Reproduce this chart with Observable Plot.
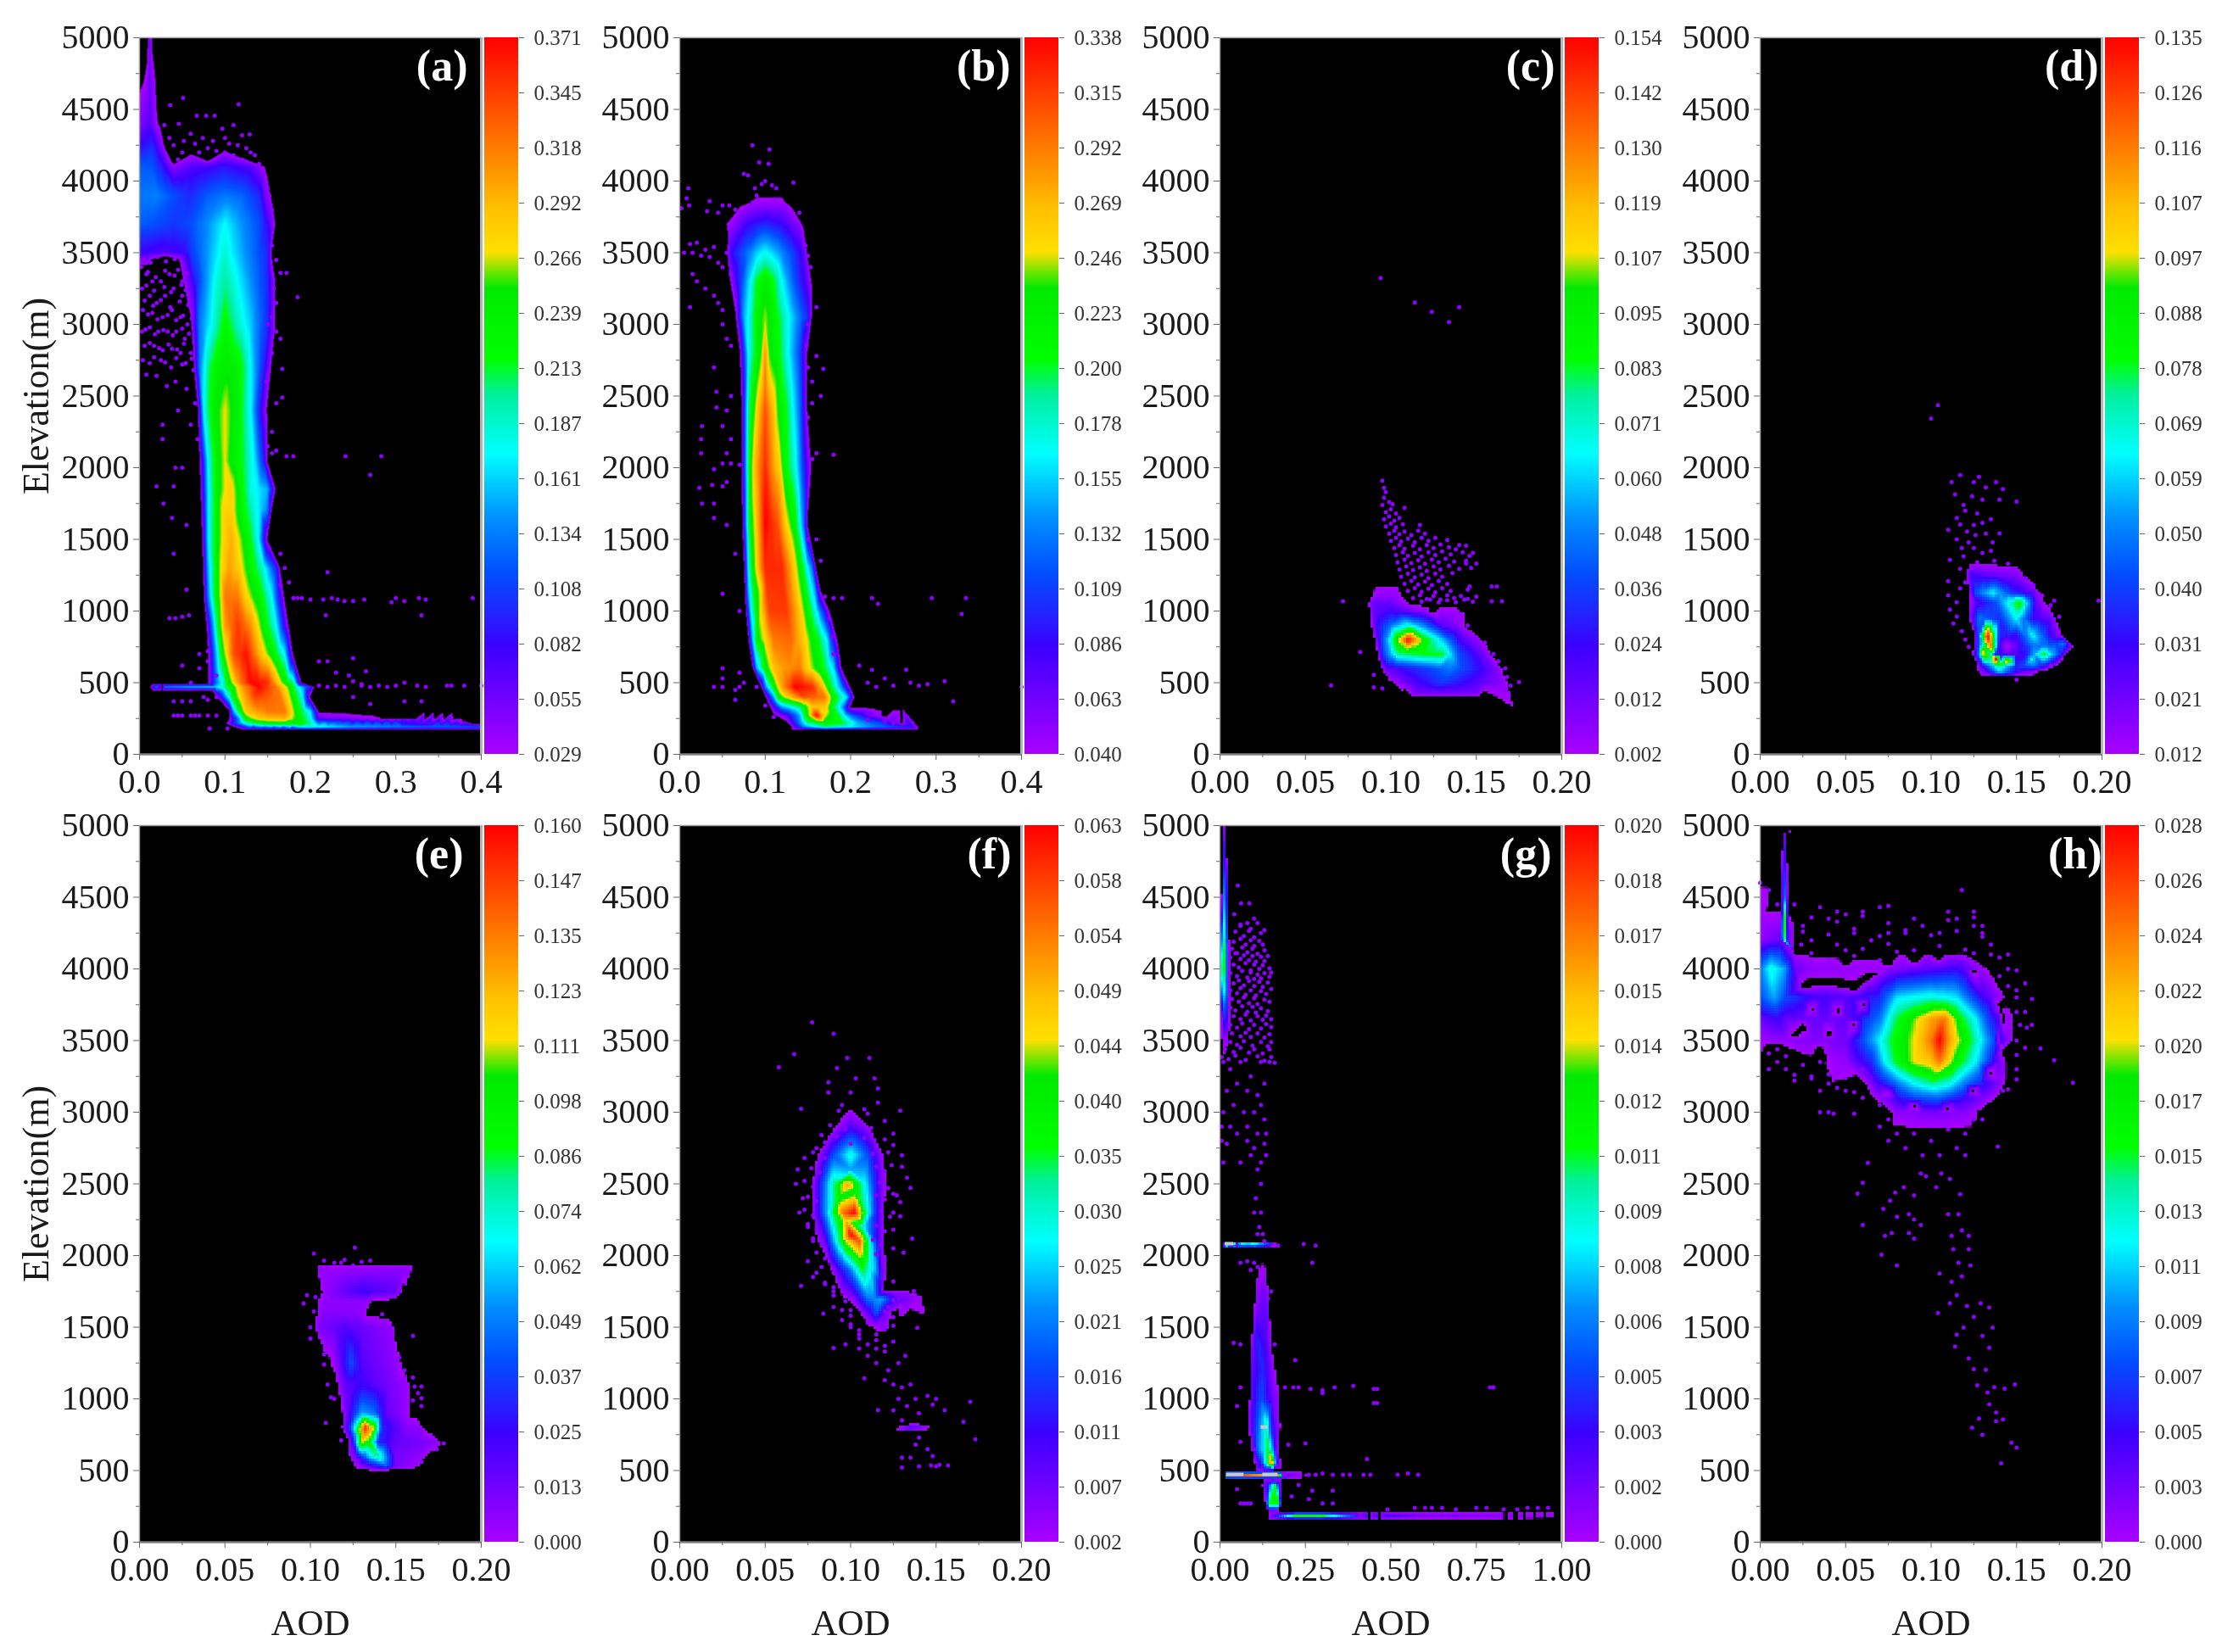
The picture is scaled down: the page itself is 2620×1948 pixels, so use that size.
<!DOCTYPE html>
<html><head><meta charset="utf-8">
<script src="https://cdn.jsdelivr.net/npm/d3@7"></script>
<script src="https://cdn.jsdelivr.net/npm/@observablehq/plot@0.6"></script>
<style>html,body{margin:0;background:#fff}#c{position:relative;width:2620px;height:1948px;overflow:hidden;filter:blur(.5px)}#c>svg,#c>div{position:absolute}
image{filter:blur(.7px)}</style></head><body><div id="c"></div>
<script>
// colour-bar tick labels
const barA=[.029,.055,.082,.108,.134,.161,.187,.213,.239,.266,.292,.318,.345,.371];
const barB=[.040,.063,.086,.109,.132,.155,.178,.200,.223,.246,.269,.292,.315,.338];
const barC=[.002,.012,.024,.036,.048,.060,.071,.083,.095,.107,.119,.130,.142,.154];
const barD=[.012,.021,.031,.040,.050,.059,.069,.078,.088,.097,.107,.116,.126,.135];
const barE=[.000,.013,.025,.037,.049,.062,.074,.086,.098,.111,.123,.135,.147,.160];
const barF=[.002,.007,.011,.016,.021,.025,.030,.035,.040,.044,.049,.054,.058,.063];
const barG=[.000,.002,.003,.005,.006,.008,.009,.011,.012,.014,.015,.017,.018,.020];
const barH=[.000,.003,.005,.007,.009,.011,.013,.015,.017,.020,.022,.024,.026,.028];
// colour ramp: share of the bar, colour
const rampAt=[0,.15,.255,.33,.42,.5,.55,.65,.70,.76,.84,.92,1];
const rampColor=["#a800ff","#3c00ff","#0050ff","#0090ff","#00ffff","#00f0a0","#00ff00","#00ea00","#ffe000","#ffc000","#ff8000","#ff4000","#ff0000"];
// density profiles: [elevation, aod, share of bar, aod, share of bar, ...]
const rowsA=[[170,.12,0,.2,0,.25,0,.33,0,.4,0],[190,.11,0,.13,.3,.2,.45,.25,.35,.33,.28,.4,.25],[215,.1,0,.125,.45,.15,.6,.19,.6,.205,.42,.25,.22,.33,.12,.4,0],[235,.21,.2,.3,.2,.36,.15,.38,0],[250,.105,0,.115,.3,.125,.62,.14,.75,.17,.78,.185,.62,.2,.45,.21,.1,.3,0,.38,0],[300,.105,0,.11,.35,.118,.6,.125,.75,.15,.85,.17,.85,.178,.72,.185,.6,.2,.4,.21,0,.3,0,.4,0],[400,.09,0,.1,.3,.105,.45,.11,.6,.12,.75,.135,.92,.165,.85,.178,.65,.19,.45,.2,0],[445,.015,0,.05,0,.085,0],[470,.012,0,.02,.3,.05,.35,.09,.4,.1,.5,.108,.6,.12,.8,.14,1,.16,.85,.175,.65,.185,.45,.2,.2,.205,0],[495,.015,0,.05,0,.08,0],[500,.09,.3,.1,.5,.105,.62,.115,.8,.13,1,.15,.95,.165,.7,.18,.5,.19,0],[700,.08,0,.088,.3,.095,.55,.1,.68,.11,.9,.125,.98,.14,.78,.155,.62,.17,.42,.18,0],[900,.078,0,.085,.3,.09,.5,.095,.66,.1,.8,.115,.93,.13,.82,.145,.62,.16,.42,.175,0],[1100,.075,0,.08,.3,.088,.55,.095,.7,.1,.85,.115,.85,.125,.72,.14,.6,.155,.42,.17,0],[1300,.074,0,.08,.35,.09,.6,.095,.7,.105,.8,.118,.72,.13,.6,.145,.45,.16,.2,.165,0],[1500,.073,0,.08,.4,.09,.6,.098,.72,.108,.78,.118,.68,.13,.55,.14,.4,.15,0],[1700,.072,0,.08,.4,.09,.6,.098,.72,.108,.73,.118,.6,.135,.45,.15,.3,.155,0],[1850,.071,0,.08,.4,.09,.6,.1,.7,.107,.73,.118,.6,.13,.45,.15,.35,.16,0],[2050,.07,0,.08,.42,.09,.6,.1,.7,.108,.62,.12,.55,.135,.4,.145,.2,.15,0],[2400,.068,0,.075,.42,.085,.6,.1,.7,.115,.6,.13,.42,.14,.2,.15,0],[2700,.063,0,.07,.3,.08,.5,.09,.6,.105,.63,.118,.58,.13,.42,.145,.2,.155,0],[3000,.06,0,.07,.3,.085,.43,.1,.58,.115,.47,.13,.38,.15,.2,.16,0],[3300,.05,0,.06,.12,.075,.3,.09,.45,.1,.5,.11,.45,.13,.33,.15,.2,.16,0],[3400,0,0,.02,0,.04,0],[3500,0,.15,.03,.12,.05,.15,.07,.28,.09,.4,.1,.46,.11,.4,.13,.3,.15,.2,.155,0],[3700,0,.27,.02,.25,.04,.22,.06,.25,.08,.33,.1,.42,.12,.33,.14,.25,.155,.1,.16,0],[3900,0,.3,.02,.31,.04,.25,.06,.2,.08,.27,.1,.3,.12,.28,.14,.2,.15,.05,.155,0],[4100,0,.27,.015,.26,.03,.15,.04,.05,.06,.12,.1,.17,.13,.12,.145,.03,.15,0],[4250,0,.15,.015,.2,.023,.1,.03,0,.06,0,.1,0,.13,0],[4400,0,.06,.012,.12,.02,.03,.025,0],[4700,0,0,.008,.03,.012,.1,.018,.03,.02,0],[5000,.009,0,.012,.1,.015,0]];
const spotsA=[[.04,4130,0],[.06,4200,0],[.08,4150,0],[.1,4220,0],[.12,4170,0],[.14,4120,0],[.015,3450,0],[.03,3470,0],[.045,3450,0]];
const rowsB=[[170,.13,0,.2,0,.28,0],[190,.13,0,.145,.3,.17,.5,.2,.42,.23,.3,.27,.2,.28,0],[220,.125,0,.135,.2,.15,.5,.17,.6,.19,.55,.21,.35,.24,.2,.26,0],[270,.11,0,.125,.1,.14,.35,.15,.65,.16,.98,.17,.7,.185,.55,.2,.3,.22,.1,.24,0],[330,.105,0,.12,.35,.14,.5,.145,.6,.155,.75,.17,.75,.18,.55,.19,.35,.2,0,.23,0,.26,0],[400,.1,0,.11,.35,.115,.6,.125,.72,.145,.9,.17,.85,.18,.6,.195,.4,.205,0],[470,.095,0,.1,.3,.11,.6,.12,.8,.135,1,.155,.95,.17,.7,.18,.5,.19,.3,.2,0],[600,.085,0,.09,.35,.1,.6,.11,.75,.12,.8,.14,.85,.15,.72,.165,.6,.18,.4,.19,0],[800,.08,0,.085,.35,.09,.6,.1,.72,.11,.85,.13,.87,.147,.72,.16,.58,.172,.42,.185,0],[1000,.077,0,.083,.4,.09,.6,.095,.72,.105,.92,.125,.93,.14,.75,.15,.6,.16,.42,.172,.1,.176,0],[1150,.076,0,.08,.35,.088,.6,.095,.72,.102,.93,.122,.94,.138,.72,.146,.6,.158,.35,.165,0],[1300,.075,0,.08,.4,.085,.6,.09,.72,.1,.95,.12,.95,.135,.72,.142,.6,.155,.3,.16,0],[1600,.073,0,.08,.5,.083,.6,.09,.75,.1,1,.115,.9,.125,.72,.135,.6,.145,.3,.15,0],[2000,.072,0,.08,.5,.083,.62,.087,.75,.1,.95,.11,.8,.118,.72,.122,.6,.135,.45,.15,.1,.155,0],[2400,.072,0,.08,.48,.085,.6,.09,.72,.1,.9,.11,.75,.115,.65,.125,.55,.14,.3,.15,0],[2800,.07,0,.08,.42,.09,.58,.095,.65,.1,.82,.105,.65,.115,.58,.125,.45,.14,.25,.15,0],[3050,.065,0,.075,.35,.085,.5,.09,.6,.1,.68,.11,.6,.12,.5,.135,.35,.15,.2,.155,0],[3300,.058,0,.07,.2,.08,.38,.09,.55,.1,.62,.11,.55,.12,.42,.135,.25,.15,.1,.155,0],[3500,.055,0,.06,.15,.08,.3,.09,.38,.1,.43,.11,.38,.13,.25,.145,.12,.15,0],[3700,.05,0,.065,.06,.08,.15,.1,.2,.12,.15,.14,.05,.145,0],[3850,.07,0,.09,.03,.1,.03,.12,.03,.13,0],[3950,.08,0,.1,0,.12,0]];
const rowsC=[[400,.11,0,.13,0,.155,0],[430,.11,0,.115,.08,.15,.08,.155,0],[500,.1,0,.107,.08,.13,.22,.15,.12,.165,.06,.17,0],[600,.094,0,.097,.1,.115,.2,.135,.3,.15,.18,.163,.06,.166,0],[700,.092,0,.096,.25,.105,.5,.12,.55,.13,.55,.14,.25,.155,.08,.16,0],[800,.09,0,.094,.2,.1,.45,.11,1,.12,.6,.13,.38,.14,.15,.15,.05,.155,0],[900,.088,0,.092,.15,.1,.3,.11,.45,.12,.3,.13,.12,.14,.05,.145,0],[1000,.087,0,.09,.1,.1,.15,.11,.1,.12,.05,.125,0],[1060,.086,0,.09,.1,.1,.1,.107,.04,.112,0,.13,0,.15,0],[1100,.088,0,.092,.05,.103,.05,.108,0],[1220,.09,0,.105,0]];
const rowsD=[[540,.13,0,.145,0,.16,0],[580,.127,0,.132,.1,.14,.4,.15,.15,.16,.05,.166,0],[620,.127,0,.13,.15,.14,.5,.15,.2,.16,.3,.17,.1,.174,0],[700,.124,0,.128,.3,.131,.75,.138,.2,.145,.1,.155,.15,.166,.55,.176,.2,.18,0],[760,.125,0,.128,.25,.135,.85,.14,.15,.145,0,.15,.1,.16,.3,.178,.25,.184,0],[830,.125,0,.128,.25,.133,1,.14,.2,.15,.15,.16,.42,.17,.15,.178,0],[950,.122,0,.128,.3,.14,.2,.15,.42,.16,.15,.17,.1,.174,0],[1060,.122,0,.126,.1,.138,.25,.152,.6,.162,.1,.168,0],[1130,.122,0,.126,.25,.136,.42,.148,.2,.16,.1,.165,0],[1250,.12,0,.124,.15,.135,.1,.15,.07,.156,0],[1340,.122,0,.13,0,.143,0,.15,0]];
const spotsD=[[.138,666,1],[.135,752,.85],[.13,715,.72],[.145,653,.75],[.14,580,.42],[.159,666,.42],[.159,838,.42],[.178,777,.3]];
const rowsE=[[500,.12,0,.14,0,.16,0],[530,.125,0,.13,.05,.145,.25,.15,.08,.16,.04,.165,0],[600,.122,0,.127,.1,.135,.4,.14,.5,.15,.08,.165,.05,.17,0],[700,.122,0,.125,.15,.13,.7,.135,.6,.14,.2,.15,.1,.165,.08,.175,.05,.178,0],[800,.118,0,.122,.15,.127,.5,.132,.95,.137,.7,.142,.2,.155,.07,.165,.05,.168,0],[900,.118,0,.122,.1,.13,.35,.137,.3,.145,.1,.155,.05,.16,0],[1100,.115,0,.12,.1,.13,.15,.14,.1,.155,.05,.16,0],[1250,.11,0,.115,.05,.124,.25,.13,.12,.15,.05,.155,0],[1500,.102,0,.105,.07,.12,.12,.135,.08,.147,.05,.15,0],[1600,.103,0,.107,.06,.125,.06,.13,.05,.134,0,.145,0],[1680,.103,0,.107,.05,.125,.05,.133,.05,.138,0,.15,0],[1750,.105,0,.11,.05,.13,.15,.15,.1,.155,0],[1900,.102,0,.106,.04,.125,.05,.14,.05,.158,.06,.16,0],[1960,.105,0,.115,0,.14,0,.16,0]];
const rowsF=[[1450,.11,0,.12,0],[1500,.11,0,.115,.03,.12,.05,.125,0],[1600,.105,0,.11,.1,.115,.25,.12,.1,.125,0],[1700,.095,0,.102,.06,.11,.3,.118,.35,.125,.15,.14,.03,.145,0],[1760,.12,0,.13,0,.145,0],[1900,.088,0,.092,.1,.1,.3,.107,.55,.115,.35,.118,.1,.122,0],[2100,.08,0,.085,.1,.09,.35,.098,.72,.105,.9,.112,.4,.117,.1,.12,0],[2300,.077,0,.081,.15,.088,.45,.095,.85,.102,1,.11,.45,.116,.15,.12,0],[2500,.077,0,.081,.15,.09,.5,.098,.8,.104,.6,.113,.25,.118,.08,.122,0],[2700,.08,0,.084,.1,.09,.25,.1,.45,.11,.25,.116,.1,.12,0],[2900,.09,0,.094,.05,.1,.12,.108,.06,.112,0],[3000,.096,0,.1,.03,.104,0],[3080,.09,0,.1,0,.11,0],[770,.125,0,.14,0],[800,.125,0,.13,.05,.135,.15,.145,.05,.15,0],[830,.125,0,.14,0]];
const spotsF=[[.093,2400,.6],[.103,2450,.6],[.1,2150,1],[.097,2250,.75],[.1,2600,.35],[.108,2200,.4]];
const rowsG=[[160,.14,0,.3,0,.6,0,.98,0],[187,.14,0,.18,.3,.22,.6,.3,.6,.33,.45,.4,.2,.6,.08,.97,.06,.98,0],[215,.14,0,.3,0,.6,0,.98,0],[270,.13,0,.145,.55,.17,.6,.18,0],[400,.12,0,.14,.2,.16,.55,.17,.2,.18,0],[445,.015,0,.07,0,.1,0,.18,0,.2,0,.26,0],[470,.015,0,.02,.85,.07,.9,.1,.85,.13,.8,.17,.85,.18,.3,.2,.1,.25,.05,.26,0],[495,.015,0,.07,0,.1,0,.18,0,.2,0,.26,0],[550,.1,0,.12,.2,.14,.55,.15,.95,.16,.4,.17,.1,.18,0],[650,.09,0,.11,.3,.125,.4,.14,.55,.15,.4,.165,.1,.17,0],[800,.08,0,.1,.2,.12,.35,.135,.5,.15,.2,.17,.05,.18,0],[1000,.085,0,.09,.1,.12,.25,.15,.1,.17,.05,.175,0],[1200,.085,0,.09,.1,.125,.2,.15,.07,.165,0],[1400,.09,0,.095,.07,.11,.2,.14,.1,.15,0],[1700,.1,0,.105,.05,.13,.1,.14,.07,.145,0],[1850,.105,0,.11,.03,.13,.05,.135,0],[2000,.1,0,.13,0],[2055,.01,0,.05,0,.1,0,.17,0],[2078,.01,0,.015,.8,.04,.6,.08,.5,.1,.6,.14,.3,.16,.05,.17,0],[2100,.01,0,.05,0,.1,0,.17,0],[3500,0,0,.01,.05,.02,.03,.028,0],[3700,0,0,.002,.05,.01,.25,.018,.2,.024,.05,.03,0],[3850,0,.25,.01,.45,.018,.3,.024,.06,.03,0],[4000,0,.4,.008,.6,.015,.5,.02,.2,.024,.05,.03,0],[4200,0,.2,.008,.45,.012,.5,.02,.2,.024,.03,.03,0],[4500,.003,0,.008,.25,.013,.35,.02,.1,.025,0],[4700,.006,0,.01,.2,.018,.12,.02,0],[5000,.01,0,.013,.08,.016,0]];
const rowsH=[[2850,.075,0,.1,0,.13,0],[3000,.075,0,.08,.05,.1,.08,.12,.06,.13,0],[3100,.065,0,.075,.1,.09,.25,.105,.28,.12,.15,.135,.04,.14,0],[3200,.06,0,.07,.15,.08,.3,.09,.42,.1,.5,.11,.45,.12,.3,.135,.12,.145,0],[3350,.03,0,.05,.05,.065,.2,.073,.42,.08,.56,.09,.7,.1,.75,.105,.85,.115,.6,.127,.4,.135,.2,.145,0],[3500,0,.03,.02,.06,.05,.08,.069,.4,.077,.55,.09,.7,.1,.85,.105,1,.11,.82,.123,.55,.129,.42,.137,.25,.145,.06,.15,0],[3650,0,.1,.01,.15,.015,.1,.03,.1,.05,.1,.07,.3,.078,.5,.085,.6,.1,.8,.108,.85,.118,.56,.126,.42,.135,.2,.145,.05,.15,0],[3800,0,.25,.008,.35,.014,.25,.03,.15,.05,.12,.07,.2,.08,.4,.1,.45,.115,.4,.13,.15,.14,.05,.145,0],[4000,0,.3,.006,.45,.014,.35,.02,.1,.03,.05,.07,.04,.085,.08,.115,.15,.13,.04,.135,0],[4120,.02,0,.05,0,.08,0,.12,0],[4200,0,.05,.012,.1,.014,.55,.016,.1,.02,0],[4350,0,.03,.012,.03,.014,.65,.016,.03,.02,0],[4500,.01,0,.012,0,.014,.3,.016,0,.018,0],[4700,.012,0,.014,.2,.016,0],[4950,.013,0,.014,.1,.015,0]];
// dark gaps inside the speckled cloud of (h)
const spotsH=[[.025,3600,0],[.04,3550,0],[.055,3620,0],[.03,3720,0],[.045,3700,0],[.06,3750,0],[.025,3880,0],[.04,3900,0],[.055,3860,0],[.065,3950,0],[.05,4040,0],[.09,4050,0],[.075,4030,0],[.105,4070,0],[.125,3980,0],[.14,3750,0],[.142,3650,0],[.14,3500,0],[.142,3420,0],[.135,3280,0],[.125,3150,0],[.11,3020,0],[.09,3040,0],[.075,3120,0],[.02,3550,0],[.035,3440,0],[.01,3450,0]];
// isolated pixels: aod, elevation, aod, elevation, ...
const dotsA=[.051,4580,.036,4530,.116,4536,.067,4456,.078,4456,.088,4456,.029,4390,.046,4400,.11,4390,.097,4365,.129,4325,.12,4320,.074,4300,.06,4330,.086,4280,.1,4300,.105,4260,.115,4250,.125,4230,.135,4180,.14,4120,.145,4050,.15,3950,.152,3900,.155,3800,.156,3700,.155,3550,.16,3450,.165,3360,.172,3360,.185,3190,.157,3250,.16,3150,.155,3050,.15,3000,.16,2950,.155,2800,.165,2900,.15,2650,.167,2690,.148,2600,.16,2450,.167,2490,.155,2250,.15,2150,.155,2100,.16,2120,.172,2080,.18,2080,.241,2080,.283,2080,.27,1950,.04,4250,.05,4200,.06,4150,.045,4150,.07,4200,.08,4230,.09,4210,.052,4280,.065,4260,.035,4300,.1,4200,.11,4180,.12,4150,.13,4200,.002,3400,.008,3350,.015,3300,.025,3300,.035,3350,.045,3380,.05,3300,.003,3250,.012,3200,.02,3150,.03,3200,.04,3250,.05,3200,.058,3150,.004,3100,.015,3080,.027,3050,.038,3100,.048,3050,.056,3000,.003,2950,.012,2980,.022,2950,.033,2950,.043,2950,.053,2900,.006,2850,.017,2850,.027,2820,.038,2830,.048,2800,.06,2800,.004,2750,.012,2730,.025,2750,.037,2700,.05,2720,.063,2680,.008,2650,.02,2640,.032,2570,.042,2600,.055,2550,.065,2450,.045,2400,.06,2300,.027,2300,.027,2200,.068,2200,.05,2000,.042,2000,.02,1870,.04,1870,.028,1750,.038,1650,.055,1600,.04,1400,.055,1150,.042,950,.05,960,.058,970,.035,950,.18,1090,.185,1090,.19,1090,.2,1080,.215,1080,.22,1270,.225,1090,.232,1080,.24,1070,.25,1070,.263,1080,.295,1060,.3,1090,.31,1070,.327,1090,.335,1080,.33,970,.39,1090,.218,970,.165,1400,.17,1300,.175,1200,.165,1180,.25,670,.22,650,.21,650,.265,580,.23,570,.245,550,.25,510,.26,490,.21,480,.22,470,.23,480,.24,470,.26,480,.27,470,.28,480,.29,470,.3,480,.31,500,.325,480,.335,470,.36,480,.365,480,.38,480,.4,480,.25,400,.27,350,.31,370,.33,370,.05,620,.06,500,.07,600,.08,650,.07,700,.08,720,.04,370,.05,370,.06,370,.065,270,.04,270,.05,270,.06,270,.07,270,.08,270,.09,270,.082,180,.103,180,.09,550,.09,400,.075,400,.08,380,.045,270,.005,3460,.013,3430,.021,3470,.031,3440,.041,3455,.051,3425,.01,3365,.019,3330,.03,3375,.041,3340,.056,3355,.008,3270,.017,3235,.029,3260,.037,3225,.049,3275,.054,3240,.006,3165,.016,3130,.025,3170,.036,3120,.047,3160,.057,3135,.01,3070,.021,3035,.033,3065,.043,3030,.051,3060,.061,3040,.007,2965,.018,2930,.028,2960,.039,2925,.05,2970,.058,2935,.012,2870,.023,2835,.034,2860,.044,2825,.052,2865,.017,2770,.03,2735,.043,2765,.054,2730,.061,2760];
const dotsB=[.085,4250,.105,4220,.093,4130,.104,4120,.075,4050,.08,4040,.088,3950,.096,3980,.1,4000,.108,3970,.113,3950,.133,3990,.01,3950,.008,3880,.011,3830,.002,3810,.035,3860,.032,3790,.045,3780,.05,3830,.058,3830,.065,3800,.085,3850,.09,3900,.1,3850,.11,3870,.12,3830,.13,3790,.14,3780,.143,3650,.147,3550,.15,3480,.153,3400,.005,3500,.012,3560,.015,3500,.02,3570,.025,3480,.03,3520,.035,3470,.04,3540,.045,3430,.05,3400,.055,3500,.06,3350,.015,3350,.02,3300,.03,3250,.04,3200,.045,3150,.012,3120,.05,3100,.05,3000,.055,2900,.06,2850,.16,3120,.15,3000,.148,2850,.16,2780,.15,2700,.168,2690,.155,2600,.04,2700,.043,2530,.06,2500,.043,2420,.055,2400,.165,2500,.155,2450,.15,2350,.026,2290,.05,2290,.025,2200,.06,2200,.055,2100,.025,2100,.06,2030,.05,2030,.04,1990,.07,2020,.155,2060,.16,2100,.18,2090,.023,1860,.038,1880,.05,1870,.055,1900,.026,1750,.04,1750,.04,1650,.055,1600,.065,1400,.05,1120,.07,1000,.15,1500,.16,1500,.165,1350,.17,1100,.18,1090,.19,1090,.225,1090,.232,1050,.295,1090,.335,1090,.33,980,.175,950,.178,820,.18,700,.21,620,.225,590,.24,530,.265,590,.22,500,.25,480,.27,500,.28,480,.29,490,.31,510,.32,370,.4,470,.05,600,.05,530,.07,570,.075,500,.04,470,.05,470,.065,450,.07,470,.09,470,.065,380,.23,470,.1,340,.11,260,.22,240,.24,230,.25,220];
const dotsC=[.094,3324,.114,3152,.124,3088,.14,3120,.134,3016,.072,1068,.082,715,.09,555,.09,468,.065,481,.175,505,.17,480,.159,1171,.162,1171,.159,1068,.165,1068,.15,1332,.148,1405,.144,1455,.138,1430,.144,1332,.146,1171,.14,980,.135,950,.145,900,.15,820,.155,780,.16,700,.163,650,.167,600,.168,540,.095,460,.095,1910,.096,1860,.097,1830,.096,1790,.099,1760,.095,1740,.101,1745,.108,1720,.097,1690,.1,1710,.103,1680,.096,1640,.099,1660,.102,1630,.105,1650,.097,1590,.1,1610,.103,1585,.107,1605,.117,1600,.099,1540,.102,1560,.105,1535,.108,1555,.112,1530,.116,1560,.12,1540,.1,1490,.103,1510,.106,1485,.11,1505,.114,1480,.118,1510,.122,1490,.126,1510,.133,1495,.102,1440,.105,1460,.108,1435,.113,1455,.117,1430,.121,1460,.125,1440,.129,1465,.134,1445,.14,1460,.103,1390,.107,1410,.11,1385,.114,1405,.118,1380,.122,1410,.126,1390,.13,1415,.135,1395,.142,1410,.146,1385,.104,1340,.108,1360,.112,1335,.116,1355,.12,1330,.124,1360,.128,1340,.132,1365,.137,1345,.144,1350,.105,1290,.109,1310,.113,1285,.117,1305,.121,1280,.125,1310,.129,1290,.134,1315,.14,1295,.147,1300,.106,1240,.11,1260,.114,1235,.118,1255,.122,1230,.126,1260,.13,1240,.136,1265,.108,1190,.112,1210,.116,1185,.12,1205,.124,1180,.128,1210,.133,1190,.11,1140,.114,1160,.118,1135,.122,1155,.126,1130,.13,1160,.135,1140,.145,1150,.113,1090,.117,1110,.121,1085,.125,1105,.129,1080,.133,1110,.137,1090,.141,1105,.145,1085,.15,1100,.118,1065,.123,1080,.128,1060,.133,1075,.138,1060,.143,1080,.148,1065];
const dotsD=[.104,2437,.1,2343,.117,1948,.112,1899,.128,1936,.138,1899,.125,1899,.132,1862,.142,1850,.114,1813,.124,1800,.13,1776,.14,1776,.15,1763,.119,1739,.117,1603,.13,1615,.121,1554,.11,1566,.126,1529,.14,1541,.136,1480,.122,1480,.111,1356,.119,1381,.13,1406,.117,1295,.145,1330,.11,1208,.117,1159,.111,1011,.115,962,.113,912,.198,1073,.172,1073,.166,1011,.12,1700,.127,1680,.135,1640,.115,1650,.125,1600,.132,1540,.115,1500,.125,1440,.135,1420,.118,1440,.127,1340,.137,1350,.124,1300,.133,1290,.148,1290,.155,1230,.16,1180,.165,1110,.17,1040,.175,960,.11,1110,.115,1060,.12,1200,.118,860,.12,800,.122,750,.13,560,.15,520,.155,560,.17,620];
const dotsE=[.102,2014,.126,2054,.098,1723,.096,1666,.103,1710,.109,832,.16,1440,.165,1086,.161,1086,.174,648,.161,775,.106,1900,.11,1920,.118,1950,.125,1930,.1,1500,.1,1420,.108,1240,.11,1100,.114,1000,.155,1200,.16,1150,.163,1040,.165,950,.17,720,.173,680,.165,560,.108,1965,.114,1950,.12,1970,.13,1955,.135,1965,.102,1610,.142,1590,.108,1310,.152,1290,.112,1010,.16,990,.165,1005,.118,710,.178,690];
const dotsF=[.0775,3627,.09,3547,.067,3406,.058,3313,.098,3378,.111,3378,.092,3307,.103,3236,.114,3236,.087,3208,.116,3166,.087,3137,.1,3137,.116,3066,.071,3024,.129,3010,.095,3050,.11,2990,.12,2940,.125,2850,.125,2770,.083,2840,.08,2750,.073,2680,.069,2600,.13,2700,.13,2620,.068,2500,.133,2543,.135,2472,.129,2373,.129,2274,.072,2400,.07,2300,.127,2420,.125,2300,.125,2180,.136,2119,.131,2020,.125,2050,.075,2200,.078,2100,.075,1960,.08,1880,.078,1850,.071,1788,.085,1800,.09,1750,.137,1751,.13,1720,.128,1700,.132,1650,.122,1640,.084,1595,.09,1640,.095,1550,.1,1620,.1,1500,.105,1450,.115,1450,.125,1400,.09,1355,.097,1380,.105,1350,.115,1350,.12,1330,.139,1496,.11,1300,.115,1250,.122,1200,.128,1250,.132,1300,.108,1143,.125,1100,.13,1080,.12,1130,.135,1100,.128,1000,.138,1000,.145,1020,.116,922,.125,920,.133,950,.14,900,.148,960,.15,1000,.155,920,.17,979,.166,840,.173,719,.13,850,.14,730,.138,680,.135,590,.13,590,.145,650,.148,600,.13,520,.14,530,.147,535,.15,530,.152,540,.157,535,.093,3010,.1,2980,.108,3020,.088,2910,.097,2880,.105,2930,.112,2890,.085,2790,.092,2830,.1,2780,.108,2820,.115,2770,.12,2810,.078,2720,.085,2680,.113,2710,.118,2670,.122,2720,.077,2610,.082,2580,.115,2620,.12,2590,.124,2630,.073,2520,.078,2480,.117,2510,.122,2470,.075,2410,.08,2380,.115,2420,.12,2390,.125,2430,.073,2320,.078,2280,.118,2310,.123,2270,.075,2220,.08,2180,.115,2210,.12,2170,.078,2120,.083,2080,.113,2110,.118,2070,.08,2020,.085,1980,.115,2010,.12,1970,.083,1920,.09,1880,.12,1910,.085,1810,.09,1780,.125,1820,.09,1720,.097,1680,.125,1690,.13,1730,.095,1620,.1,1580,.12,1610,.125,1570,.1,1520,.105,1480,.11,1530,.12,1490,.125,1510,.105,1420,.11,1380,.115,1410,.12,1370];
const dotsG=[.052,4581,.062,4457,.086,4457,.042,4381,.06,4300,.08,4320,.1,4350,.01,3350,.03,3300,.06,3350,.09,3250,.12,3350,.145,3350,.16,3345,.02,3150,.05,3200,.08,3150,.11,3120,.13,3200,.01,3000,.04,3050,.07,3000,.1,3000,.12,3050,.13,2950,.005,2900,.03,2900,.05,2850,.08,2900,.11,2850,.135,2850,.005,2800,.02,2780,.08,2800,.1,2750,.13,2780,.01,2650,.06,2650,.09,2700,.12,2650,.135,2700,.11,2600,.12,2500,.105,2400,.1,2300,.12,2300,.115,2200,.11,2150,.125,2150,.13,2100,.06,1950,.08,1960,.09,1900,.1,1950,.11,1920,.13,1800,.14,1700,.15,1750,.245,2080,.28,2070,.17,2070,.27,1950,.04,1390,.06,1380,.16,1380,.22,1270,.19,1080,.215,1080,.23,1080,.265,1070,.3,1060,.3,1040,.335,1080,.39,1090,.45,1070,.46,1070,.79,1080,.8,1080,.05,950,.06,1080,.45,970,.46,970,.2,680,.25,690,.43,580,.1,650,.06,700,.19,470,.22,470,.26,470,.28,470,.3,480,.33,470,.36,470,.38,470,.42,470,.44,470,.52,470,.55,480,.58,470,.23,400,.27,360,.33,360,.21,320,.26,300,.3,270,.33,270,.05,370,.06,270,.07,270,.08,270,.09,270,.49,230,.57,240,.6,240,.62,240,.65,240,.69,230,.75,240,.78,240,.83,230,.87,230,.9,240,.93,240,.96,240,.06,4310,.09,4280,.11,4320,.13,4270,.045,4260,.07,4230,.085,4265,.1,4220,.12,4250,.04,4190,.06,4210,.075,4170,.09,4200,.1,4160,.115,4195,.125,4170,.035,4140,.05,4110,.065,4150,.08,4115,.095,4140,.11,4105,.13,4130,.03,4080,.045,4110,.06,4070,.07,4095,.085,4060,.095,4090,.105,4050,.12,4085,.13,4055,.14,4090,.04,4030,.055,4010,.075,4040,.09,3990,.1,4030,.115,4000,.125,4025,.145,4005,.03,3970,.05,3950,.065,3985,.08,3940,.09,3975,.1,3930,.11,3960,.12,3935,.13,3970,.145,3945,.15,3975,.04,3900,.055,3920,.07,3885,.085,3915,.1,3880,.115,3910,.125,3875,.14,3905,.03,3850,.05,3830,.06,3865,.075,3820,.09,3850,.105,3815,.12,3845,.135,3825,.15,3860,.035,3790,.055,3770,.07,3800,.085,3760,.1,3795,.11,3755,.13,3785,.145,3770,.03,3730,.045,3710,.065,3740,.08,3700,.095,3735,.105,3695,.12,3725,.14,3705,.04,3670,.06,3650,.075,3680,.09,3640,.11,3670,.125,3645,.135,3675,.15,3650,.03,3610,.05,3590,.065,3620,.085,3580,.1,3610,.12,3585,.135,3615,.15,3595,.035,3550,.06,3530,.075,3555,.09,3525,.11,3550,.13,3520,.145,3545,.03,3490,.05,3470,.07,3495,.095,3465,.12,3490,.14,3460,.15,3490,.015,3440,.04,3420,.06,3450,.085,3415,.1,3440,.125,3410,.145,3440,.005,3385,.025,3370,.045,3395,.075,3365,.11,3390,.13,3360,.15,3385];
const dotsH=[.071,2006,.08,1930,.057,2432,.06,2507,.06,2213,.063,2647,.072,2326,.076,2383,.079,2440,.084,2477,.09,2420,.077,2157,.073,2138,.087,2157,.09,2119,.08,2270,.09,2251,.094,2213,.087,2289,.094,2572,.097,2553,.106,2572,.103,2477,.111,2534,.117,2428,.11,2289,.116,2289,.118,2176,.112,2138,.122,2138,.113,2044,.122,2044,.116,1949,.123,1930,.105,1874,.112,1817,.118,1855,.115,1723,.111,1667,.104,1599,.121,1648,.129,1667,.134,1637,.125,1572,.119,1497,.115,1448,.13,1440,.136,1497,.114,1365,.134,1357,.122,1282,.125,1207,.132,1203,.127,1094,.137,1082,.143,1071,.149,1101,.133,1044,.134,962,.138,905,.128,863,.142,856,.138,845,.124,799,.13,750,.147,694,.15,660,.141,551,.183,3205,.172,3363,.164,3446,.159,3790,.159,3609,.139,2760,.035,3000,.04,3000,.043,2990,.055,2990,.07,2900,.06,3100,.05,3150,.04,3200,.03,3250,.02,3220,.01,3350,.005,3300,.015,3300,.045,3280,.075,2950,.08,2850,.09,2850,.1,2800,.11,2880,.12,2850,.125,2950,.13,2950,.075,2800,.085,2750,.095,2700,.105,2700,.115,2750,.12,2700,.142,3150,.15,3300,.155,3450,.15,3500,.15,3700,.15,3800,.155,3900,.145,4000,.145,3880,.13,4250,.135,4100,.125,4300,.115,4350,.105,4250,.095,4300,.085,4250,.075,4250,.065,4200,.055,4250,.05,4380,.045,4400,.04,4350,.035,4430,.03,4200,.025,4300,.02,4450,.01,4450,.005,4550,.0,4600,.06,4400,.075,4440,.07,4430,.118,4550,.11,4400,.125,4400,.13,4300,.145,4100,.15,3990,.03,4360,.045,4330,.06,4370,.075,4320,.09,4350,.11,4340,.125,4360,.025,4260,.04,4240,.055,4280,.07,4230,.085,4270,.1,4235,.115,4265,.13,4225,.045,4170,.06,4140,.075,4175,.09,4130,.105,4160,.12,4135,.135,4170,.03,4110,.055,4090,.08,4120,.1,4085,.125,4110,.14,4080,.02,3260,.03,3235,.04,3265,.05,3240,.058,3260,.14,3250,.15,3230,.035,3150,.045,3170,.055,3140,.145,3160,.005,3410,.015,3390,.15,3400,.152,3610,.156,3590,.155,3700,.024,4170,.03,4050,.04,4060,.05,4130,.07,4060,.02,4090,.14,3950,.15,3850,.01,3440,.025,3330,.035,3350,.045,3390,.06,3300,.07,3050,.08,3000,.1,2960,.12,2990];
// saturated (grey) pixels, aod from, aod to, elevation
const hotG=[.02,.07,470,.125,.17,470,.015,.04,2080,.12,.14,800];
// axis ticks
const elevTicks=[0,500,1000,1500,2000,2500,3000,3500,4000,4500,5000];
const elevMinor=[250,750,1250,1750,2250,2750,3250,3750,4250,4750];
const ticks04=[0,.1,.2,.3,.4], minor04=[.05,.15,.25,.35];
const ticks02=[0,.05,.1,.15,.2], minor02=[.025,.075,.125,.175];
const ticks10=[0,.25,.5,.75,1], minor10=[.125,.375,.625,.875];
const panelNames=["(a)","(b)","(c)","(d)","(e)","(f)","(g)","(h)"];
const lefts=[164,801,1438,2075], tops=[44,973];
const nameShift=[-16,-13,-8,-4,-21,-12,-12,0];

const groups=[
 [barA,rowsA,dotsA,spotsA,ticks04,minor04,.4,1,1],[barB,rowsB,dotsB,[],ticks04,minor04,.4,1,1],
 [barC,rowsC,dotsC,[],ticks02,minor02,.2,2,3],[barD,rowsD,dotsD,spotsD,ticks02,minor02,.2,2,3],
 [barE,rowsE,dotsE,[],ticks02,minor02,.2,2,3],[barF,rowsF,dotsF,spotsF,ticks02,minor02,.2,2,3],
 [barG,rowsG,dotsG,[],ticks10,minor10,1,2,3],[barH,rowsH,dotsH,spotsH,ticks02,minor02,.2,2,3]];
const W=403,H=845,ML=150,MB=128,MT=2,MR=4;
const font="Liberation Serif";
const root=document.getElementById("c");
const pairs=a=>d3.range(0,a.length,2).map(i=>[a[i],a[i+1]]);
const cmap=d3.scaleLinear(rampAt,rampColor).clamp(true);
groups.forEach((g,i)=>{
 const [bar,rows,dots,spots,ticks,minor,xmax,dec,px]=g;
 const samples=[...spots];
 const T=36,xpx=W/xmax,ypx=H/5000;
 // every profile is walked in short steps so the triangulation stays between neighbouring profiles
 rows.forEach(r=>{
  for(let k=1;k<r.length;k+=2){
   samples.push([r[k],r[0],r[k+1]]);
   if(k+2<r.length){
    const n=Math.ceil((r[k+2]-r[k])*xpx/12);
    for(let s=1;s<n;s++)samples.push([r[k]+(r[k+2]-r[k])*s/n,r[0],r[k+1]+(r[k+3]-r[k+1])*s/n]);
   }
  }
 });
 // empty ground: black anchors wherever no profile is close by
 for(let c=0;c<=16;c++)for(let v=0;v<=40;v++){
  const gx=xmax*c/16,gy=5000*v/40;
  const near=rows.some(r=>{
   if(Math.abs(r[0]-gy)*ypx>=T)return false;
   const xs=r.filter((_,k)=>k%2===1);
   return gx>=d3.min(xs)-T/xpx&&gx<=d3.max(xs)+T/xpx;});
  if(!near)samples.push([gx,gy,0]);
 }
 const col=i%4,row=i>3?1:0;
 const hot=i===6?d3.range(0,hotG.length,3).map(k=>hotG.slice(k,k+3)):[];
 const marks=[
  Plot.frame({fill:"black"}),
  Plot.raster(samples,{x:d=>d[0],y:d=>d[1],fill:d=>d[2],interpolate:"barycentric",pixelSize:px,imageRendering:px>1?"pixelated":"auto"}),
  Plot.dot(pairs(dots),{x:d=>d[0],y:d=>d[1],r:2.5,fill:"#8c00ff",stroke:"none"}),
  Plot.rect(hot,{x1:d=>d[0],x2:d=>d[1],y1:d=>d[2]-12,y2:d=>d[2]+12,fill:"#c8c8c8"}),
  Plot.ruleY([0],{stroke:"#808080",strokeWidth:2.5}),
  Plot.ruleY([5000],{stroke:"#a0a0a0",strokeWidth:1.5}),
  Plot.ruleX([0],{stroke:"#a0a0a0",strokeWidth:1.5}),
  Plot.ruleX([xmax],{stroke:"#b4b4b4",strokeWidth:3}),
  Plot.axisX(ticks,{tickSize:7,tickPadding:10,stroke:"#666",fill:"#1a1a1a",tickFormat:d=>d.toFixed(dec),label:null}),
  Plot.axisX(minor,{tickSize:4,stroke:"#666",text:null,label:null}),
  Plot.axisY(elevTicks,{tickSize:7,tickPadding:5,stroke:"#666",fill:"#1a1a1a",tickFormat:d=>String(d),label:null}),
  Plot.axisY(elevMinor,{tickSize:4,stroke:"#666",text:null,label:null}),
  Plot.text([panelNames[i]],{frameAnchor:"top-right",lineAnchor:"top",dx:nameShift[i],dy:14,fill:"white",fontWeight:"bold",fontSize:52})
 ];
 if(col===0)marks.push(Plot.text(["Elevation(m)"],{frameAnchor:"left",textAnchor:"middle",rotate:-90,dx:-122,fontSize:44,fill:"#1a1a1a"}));
 if(row===1)marks.push(Plot.text(["AOD"],{frameAnchor:"bottom",lineAnchor:"middle",dy:96,fontSize:43,fill:"#1a1a1a"}));
 const svg=Plot.plot({width:W+ML+MR,height:H+MT+MB,marginLeft:ML,marginRight:MR,marginTop:MT,marginBottom:MB,
  style:{background:"transparent",fontFamily:font,fontSize:"40px",overflow:"visible"},
  x:{domain:[0,xmax]},y:{domain:[0,5000]},
  color:{type:"linear",domain:[-1,.019,.02,...rampAt.slice(1)],range:["#000","#000",...rampColor],clamp:true},
  marks});
 svg.style.left=(lefts[col]-ML)+"px";svg.style.top=(tops[row]-MT)+"px";root.appendChild(svg);
 // colour bar: evenly spaced labels along the bar
 const last=bar.length-1;
 const strips=d3.range(0,422).map(k=>k/422);
 const cb=Plot.plot({width:130,height:H+MT+20,marginLeft:0,marginRight:90,marginTop:MT,marginBottom:20,
  style:{background:"transparent",fontFamily:font,fontSize:"25px",overflow:"visible"},
  x:{domain:[0,1],axis:null},y:{domain:[0,last]},
  marks:[
   Plot.rect(strips,{x1:0,x2:1,y1:d=>d*last,y2:d=>(d+1/422)*last,fill:d=>cmap(d+.5/422),shapeRendering:"crispEdges"}),
   Plot.axisY(d3.range(bar.length),{anchor:"right",tickSize:6,tickPadding:12,stroke:"#666",fill:"#333",tickFormat:d=>bar[d].toFixed(3),label:null})
  ]});
 cb.style.left=(lefts[col]+407)+"px";cb.style.top=(tops[row]-MT)+"px";root.appendChild(cb);
});
</script></body></html>
